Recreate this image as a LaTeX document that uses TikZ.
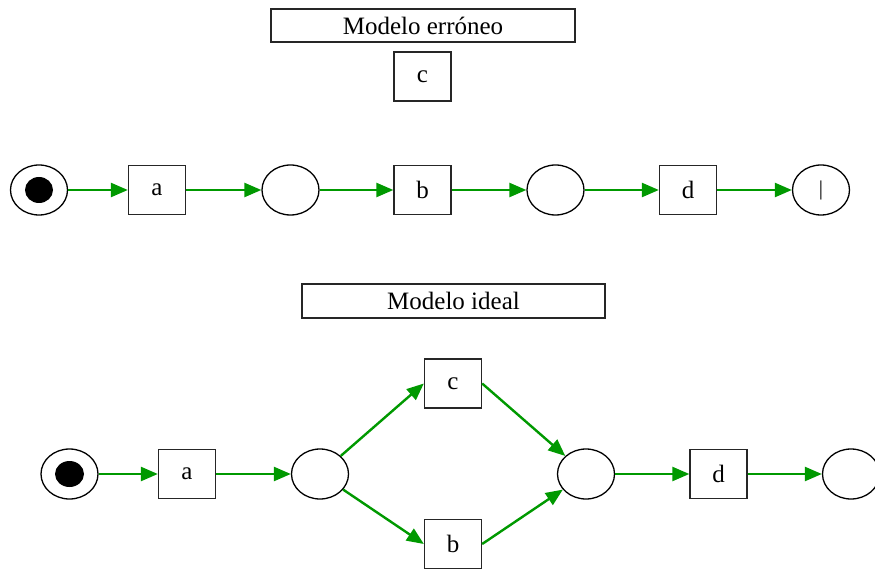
\documentclass[tikz,border=0pt]{standalone}
\usepackage{fontspec}
\setmainfont{Liberation Serif}
\usetikzlibrary{shapes.geometric,arrows.meta}
\definecolor{arcgreen}{RGB}{0,153,0}
\tikzset{
  place/.style={ellipse, draw=black, line width=1.3pt, minimum width=57pt, minimum height=50pt, inner sep=0pt},
  trans/.style={rectangle, draw=black!85, line width=1.3pt, minimum width=57pt, minimum height=49pt, inner sep=0pt},
  titlebox/.style={rectangle, draw=black!85, line width=1.3pt, minimum width=304pt, minimum height=33pt, inner sep=0pt},
  token/.style={ellipse, fill=black, minimum width=28pt, minimum height=26pt, inner sep=0pt},
  arc/.style={draw=arcgreen, line width=2.4pt, -{Triangle[length=17pt,width=14pt]}},
  lbl/.style={font=\fontsize{25}{29}\selectfont}
}
\begin{document}
\begin{tikzpicture}[x=1pt,y=-1pt]
\useasboundingbox (0,0) rectangle (875,569);
% Modelo erroneo
\node[titlebox,lbl] (t1) at (423,25.5) {Modelo erróneo};
\node[trans,lbl] (c1) at (422.5,76.5) {c};
\node[place] (p11) at (39,190) {};
\node[token] (k1) at (39,190) {};
\node[trans,lbl] (a1) at (157,190) {a};
\node[place] (p12) at (290.5,190) {};
\node[trans,lbl] (b1) at (422.5,190) {b};
\node[place] (p13) at (555.5,190) {};
\node[trans,lbl] (d1) at (688,190) {d};
\node[place,lbl] (p14) at (821,190) {\fontsize{21}{24}\selectfont |};
\draw[arc] (p11) -- (a1);
\draw[arc] (a1) -- (p12);
\draw[arc] (p12) -- (b1);
\draw[arc] (b1) -- (p13);
\draw[arc] (p13) -- (d1);
\draw[arc] (d1) -- (p14);
% Modelo ideal
\node[titlebox,lbl,minimum width=303pt,minimum height=34pt] (t2) at (453.5,301) {Modelo ideal};
\node[place] (p21) at (69.5,474) {};
\node[token,minimum width=29pt] (k2) at (69.5,474) {};
\node[trans,lbl] (a2) at (187,474) {a};
\node[place] (p22) at (320,474) {};
\node[trans,lbl] (c2) at (453,383.5) {c};
\node[trans,lbl] (b2) at (453,544) {b};
\node[place] (p23) at (586,474) {};
\node[trans,lbl] (d2) at (718.5,474) {d};
\node[place] (p24) at (851,474) {};
\draw[arc] (p21) -- (a2);
\draw[arc] (a2) -- (p22);
\draw[arc] (p22) -- (c2.west);
\draw[arc] (p22) -- (b2.west);
\draw[arc] (c2.east) -- (p23);
\draw[arc] (b2.east) -- (p23);
\draw[arc] (p23) -- (d2);
\draw[arc] (d2) -- (p24);
\end{tikzpicture}
\end{document}
